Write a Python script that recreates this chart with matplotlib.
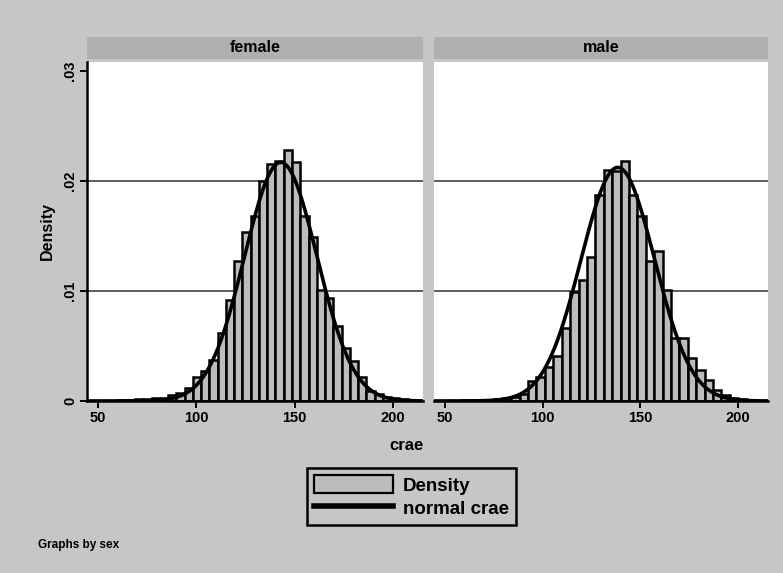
# crae histograms by sex, with normal overlay (Stata style)
import numpy as np
import matplotlib
matplotlib.use('Agg')
import matplotlib.pyplot as plt
from matplotlib.patches import Patch, Rectangle
from matplotlib.lines import Line2D

plt.rcParams['font.family'] = ['Liberation Sans', 'DejaVu Sans']
plt.rcParams['font.weight'] = 'bold'

# data
female_left = [60.5, 64.7, 68.9, 73.1, 77.3, 81.5, 85.7, 89.9, 94.1, 98.3,
               102.5, 106.7, 110.9, 115.1, 119.3, 123.5, 127.7, 131.9, 136.1, 140.3,
               144.5, 148.7, 152.9, 157.1, 161.3, 165.5, 169.7, 173.9, 178.1, 182.3,
               186.5, 190.7, 194.9, 199.1, 203.3]
female_width = 4.2
female_density = [0.0001, 0.0001, 0.0002, 0.0002, 0.0003, 0.0003, 0.0005, 0.0007, 0.0012, 0.0022,
                  0.0027, 0.0037, 0.0062, 0.0092, 0.0127, 0.0154, 0.0168, 0.0200, 0.0215, 0.0218,
                  0.0228, 0.0217, 0.0168, 0.0149, 0.0101, 0.0094, 0.0068, 0.0048, 0.0036, 0.0022,
                  0.0009, 0.0006, 0.0004, 0.0003, 0.0002]
female_mean, female_sd = 143.0, 18.4

male_left = [58.2, 62.5, 66.8, 71.1, 75.4, 79.7, 84.0, 88.3, 92.6, 96.9,
             101.2, 105.5, 109.8, 114.1, 118.4, 122.7, 127.0, 131.3, 135.6, 139.9,
             144.2, 148.5, 152.8, 157.1, 161.4, 165.7, 170.0, 174.3, 178.6, 182.9,
             187.2, 191.5, 195.8, 200.1]
male_width = 4.3
male_density = [0.0001, 0.0001, 0.0001, 0.0001, 0.0002, 0.0003, 0.0004, 0.0006, 0.0018, 0.0022,
                0.0031, 0.0041, 0.0066, 0.0099, 0.0110, 0.0131, 0.0187, 0.0210, 0.0209, 0.0218,
                0.0187, 0.0168, 0.0127, 0.0136, 0.0101, 0.0057, 0.0057, 0.0039, 0.0028, 0.0019,
                0.0010, 0.0005, 0.0003, 0.0002]
male_mean, male_sd = 138.5, 18.8

panels = [('female', female_left, female_width, female_density, female_mean, female_sd),
          ('male', male_left, male_width, male_density, male_mean, male_sd)]

xticks = [50, 100, 150, 200]
yticks = [0, 0.01, 0.02, 0.03]
yticklabels = ['0', '.01', '.02', '.03']

# style
bg = '#c6c6c6'
strip = '#b0b0b0'
barfill = '#bcbcbc'
ink = 'black'

W, H = 783, 573
fig = plt.figure(figsize=(W / 100, H / 100), dpi=100, facecolor=bg)

def px(x0, y0, x1, y1):
    # pixel box (top-left origin) -> figure rect
    return [x0 / W, 1 - y1 / H, (x1 - x0) / W, (y1 - y0) / H]

boxes = [(87, 62, 423, 401), (434, 62, 768, 401)]
xs = np.linspace(40, 220, 400)

for i, (name, left, width, dens, mu, sd) in enumerate(panels):
    x0, y0, x1, y1 = boxes[i]
    ax = fig.add_axes(px(x0, y0, x1, y1))
    ax.set_facecolor('white')
    ax.set_xlim(44.5, 215.3)
    ax.set_ylim(0, 0.0308)

    for g in [0.01, 0.02]:
        ax.axhline(g, color='#333333', lw=1.1, zorder=1)

    ax.bar(left, dens, width=width, align='edge', color=barfill,
           edgecolor=ink, linewidth=1.8, zorder=2)
    pdf = np.exp(-0.5 * ((xs - mu) / sd) ** 2) / (sd * np.sqrt(2 * np.pi))
    ax.plot(xs, pdf, color=ink, lw=2.6, zorder=3)

    for s in ['top', 'right']:
        ax.spines[s].set_visible(False)
    ax.spines['bottom'].set_linewidth(1.8)
    ax.spines['left'].set_linewidth(1.8)
    ax.set_xticks(xticks)
    ax.set_xticklabels([str(t) for t in xticks], fontsize=10.5, fontweight='bold')
    ax.tick_params(axis='x', direction='out', length=5, width=1.4, pad=2)
    if i == 0:
        ax.set_yticks(yticks)
        ax.set_yticklabels(yticklabels, rotation=90, va='center', fontsize=10.5,
                           fontweight='bold')
        ax.tick_params(axis='y', direction='out', length=5, width=1.4, pad=2)
        ax.set_ylabel('Density', fontsize=11.5, fontweight='bold', labelpad=6)
    else:
        ax.spines['left'].set_visible(False)
        ax.set_yticks([])

    # strip title
    fig.patches.append(Rectangle((x0 / W, 1 - 59 / H), (x1 - x0) / W, 22 / H,
                                 transform=fig.transFigure, facecolor=strip,
                                 edgecolor='none', zorder=0))
    fig.text((x0 + x1) / 2 / W, 1 - 48 / H, name, ha='center', va='center',
             fontsize=11.5, fontweight='bold')

fig.text(406 / W, 1 - 446 / H, 'crae', ha='center', va='center',
         fontsize=12, fontweight='bold')

handles = [Patch(facecolor=barfill, edgecolor=ink, linewidth=1.6),
           Line2D([0], [0], color=ink, lw=4)]
leg = fig.legend(handles, ['Density', 'normal crae'], loc='center',
                 bbox_to_anchor=(411.5 / W, 1 - 496.5 / H),
                 prop={'size': 13.5, 'weight': 'bold'}, handlelength=4.2,
                 handleheight=1.1, handletextpad=0.5, borderpad=0.4,
                 labelspacing=0.2, fancybox=False, framealpha=1,
                 facecolor=bg, edgecolor=ink)
leg.get_frame().set_linewidth(1.8)

fig.text(38 / W, 1 - 545 / H, 'Graphs by sex', ha='left', va='center',
         fontsize=8.5, fontweight='bold')

fig.savefig('out.png', dpi=100, facecolor=bg)
